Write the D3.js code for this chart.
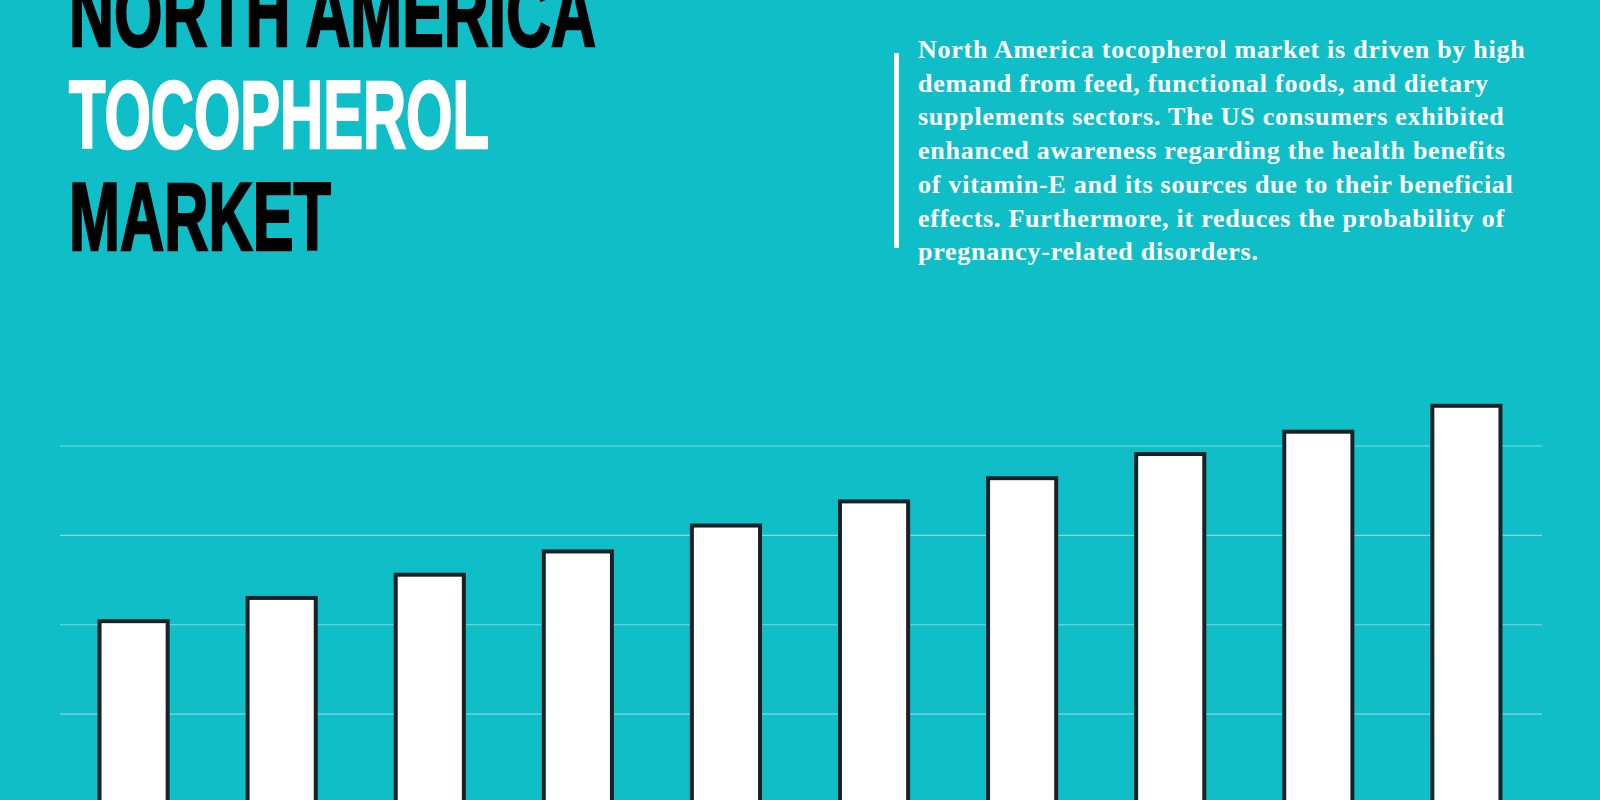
<!DOCTYPE html>
<html><head><meta charset="utf-8">
<script src="https://cdn.jsdelivr.net/npm/d3@7"></script>
<style>body{margin:0;background:#10bec8}svg{display:block}</style>
</head><body>
<script>
var years = ["2021","2022","2023","2024","2025","2026","2027","2028","2029","2030"];
var values = [2.04, 2.30, 2.56, 2.82, 3.11, 3.38, 3.64, 3.91, 4.16, 4.45];
var gridTicks = [1, 2, 3, 4];
var titleLines = ["NORTH AMERICA", "TOCOPHEROL", "MARKET"];
var para = ["North America tocopherol market is driven by high",
  "demand from feed, functional foods, and dietary",
  "supplements sectors. The US consumers exhibited",
  "enhanced awareness regarding the health benefits",
  "of vitamin-E and its sources due to their beneficial",
  "effects. Furthermore, it reduces the probability of",
  "pregnancy-related disorders."];

var W = 1600, H = 800;
var svg = d3.select("body").append("svg").attr("width", W).attr("height", H);
svg.append("rect").attr("width", W).attr("height", H).attr("fill", "#10bec8");

var x = d3.scaleBand().domain(years).range([64, 1536]).paddingInner(0.54).paddingOuter(0.24);
var y = d3.scaleLinear().domain([0, 4]).range([803.5, 446]);

svg.append("g").selectAll("line").data(gridTicks).join("line")
  .attr("x1", 60).attr("x2", 1542)
  .attr("y1", d => y(d)).attr("y2", d => y(d))
  .attr("stroke", "#7fd9de").attr("stroke-width", 1.2);

svg.append("g").selectAll("rect").data(values).join("rect")
  .attr("x", (d, i) => x(years[i]))
  .attr("width", x.bandwidth())
  .attr("y", d => y(d))
  .attr("height", d => y(0) - y(d) + 10)
  .attr("fill", "#fff").attr("stroke", "#172226").attr("stroke-width", 4);

// title
var tInfo = [{b: 46, w: 527, c: "#000"}, {b: 148, w: 420, c: "#fff"}, {b: 250, w: 262, c: "#000"}];
svg.append("g").selectAll("text").data(titleLines).join("text")
  .attr("x", 69).attr("y", (d, i) => tInfo[i].b)
  .attr("textLength", (d, i) => tInfo[i].w).attr("lengthAdjust", "spacingAndGlyphs")
  .attr("fill", (d, i) => tInfo[i].c)
  .attr("stroke", (d, i) => tInfo[i].c).attr("stroke-width", 2.5)
  .style("font-family", "'Liberation Sans Narrow', 'Liberation Sans', sans-serif")
  .style("font-weight", "bold").style("font-size", "96px")
  .text(d => d);

svg.append("rect").attr("x", 894).attr("y", 53).attr("width", 5).attr("height", 195).attr("fill", "#fff");
svg.append("g").selectAll("text").data(para).join("text")
  .attr("x", 918).attr("y", (d, i) => 58 + i * 33.7)
  .attr("fill", "#fff")
  .style("font-family", "'Liberation Serif', serif")
  .style("font-weight", "bold").style("font-size", "26px")
  .style("letter-spacing", "0.75px")
  .text(d => d);
</script>
</body></html>
